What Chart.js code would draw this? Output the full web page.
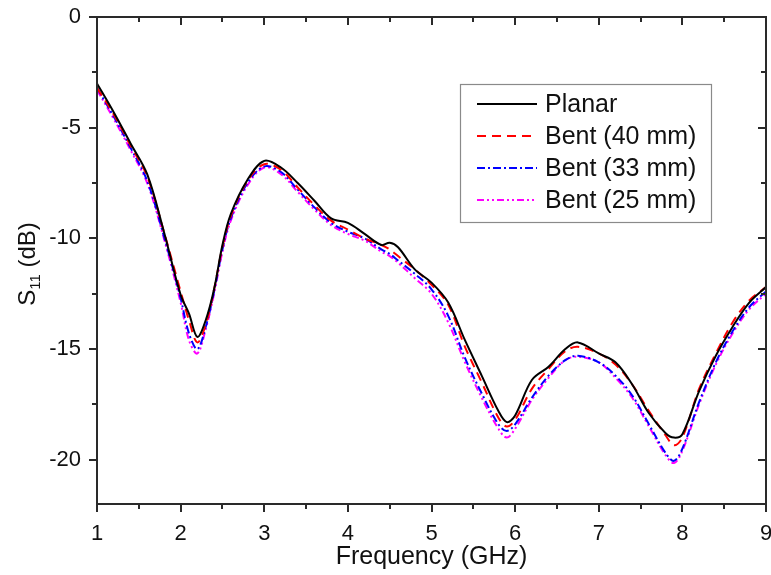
<!DOCTYPE html>
<html>
<head>
<meta charset="utf-8">
<script src="https://cdn.jsdelivr.net/npm/chart.js@4.4.1/dist/chart.umd.min.js"></script>
<style>
  html, body { margin: 0; padding: 0; background: #fff; }
  #wrap { width: 771px; height: 575px; }
</style>
</head>
<body>
<div id="wrap"><canvas id="c" width="771" height="575"></canvas></div>
<script>
const freq = [1.0,1.2,1.4,1.6,1.8,2.0,2.1,2.2,2.3,2.4,2.5,2.6,2.8,3.0,3.2,3.4,3.6,3.8,4.0,4.2,4.4,4.5,4.6,4.8,5.0,5.2,5.4,5.6,5.8,5.9,6.0,6.2,6.4,6.6,6.75,7.0,7.2,7.4,7.6,7.8,7.9,8.0,8.2,8.4,8.6,8.8,9.0];

const planar = [-3.0,-4.3,-5.7,-7.1,-9.7,-12.55,-13.4,-14.45,-13.7,-12.3,-10.3,-8.9,-7.35,-6.5,-6.8,-7.5,-8.3,-9.1,-9.3,-9.8,-10.3,-10.2,-10.4,-11.4,-12.0,-12.9,-14.6,-16.2,-17.8,-18.3,-18.0,-16.4,-15.8,-15.0,-14.7,-15.2,-15.6,-16.6,-17.9,-18.8,-19.0,-18.85,-16.9,-15.3,-14.0,-12.9,-12.2];
const bent40 = [-3.2,-4.4,-5.8,-7.2,-9.7,-12.4,-13.7,-14.7,-13.9,-12.3,-10.4,-9.0,-7.4,-6.65,-6.9,-7.7,-8.5,-9.2,-9.6,-10.0,-10.3,-10.5,-10.8,-11.4,-12.1,-13.0,-14.9,-16.5,-18.1,-18.5,-18.2,-16.8,-15.9,-15.1,-14.9,-15.2,-15.7,-16.6,-17.8,-18.9,-19.35,-19.0,-16.8,-15.2,-13.8,-12.8,-12.2];
const bent33 = [-3.2,-4.5,-5.9,-7.4,-9.9,-12.7,-14.3,-15.0,-14.0,-12.4,-10.5,-9.1,-7.5,-6.75,-7.0,-7.8,-8.6,-9.3,-9.7,-10.0,-10.5,-10.7,-11.0,-11.6,-12.3,-13.5,-15.4,-17.0,-18.4,-18.7,-18.4,-17.2,-16.2,-15.5,-15.3,-15.6,-16.2,-17.1,-18.4,-19.7,-20.05,-19.5,-17.4,-15.6,-14.2,-13.1,-12.4];
const bent25 = [-3.3,-4.6,-6.0,-7.5,-10.0,-12.9,-14.6,-15.2,-14.1,-12.5,-10.6,-9.2,-7.6,-6.8,-7.1,-7.9,-8.7,-9.4,-9.8,-10.1,-10.6,-10.8,-11.1,-11.8,-12.5,-13.8,-15.6,-17.2,-18.6,-19.0,-18.6,-17.3,-16.3,-15.5,-15.35,-15.6,-16.3,-17.2,-18.5,-19.8,-20.15,-19.6,-17.5,-15.7,-14.3,-13.2,-12.5];

const seriesNames = ['Planar','Bent (40 mm)','Bent (33 mm)','Bent (25 mm)'];
const xTicks = [1,2,3,4,5,6,7,8,9];
const yTicks = [0,-5,-10,-15,-20];
const xMinor = [1.5,2.5,3.5,4.5,5.5,6.5,7.5,8.5];
const yMinor = [-2.5,-7.5,-12.5,-17.5];

const colors = ['#000000','#ff0000','#0000ff','#ff00ff'];
const dashes = [[], [9,6], [8,3,2,3], [7,3,2,3,2,3]];
const allSeries = [planar, bent40, bent33, bent25];

const FONT = '"Liberation Sans", Arial, Helvetica, sans-serif';
const AX = '#2a2a2a';

const framePlugin = {
  id: 'frame',
  afterDatasetsDraw(chart) {
    const ctx = chart.ctx;
    const a = chart.chartArea;
    const xs = chart.scales.x, ys = chart.scales.y;
    ctx.save();
    ctx.strokeStyle = AX;
    ctx.lineWidth = 2;
    ctx.setLineDash([]);
    ctx.strokeRect(a.left, a.top, a.right - a.left, a.bottom - a.top);
    ctx.beginPath();
    xTicks.forEach(v => {
      const px = Math.round(xs.getPixelForValue(v));
      ctx.moveTo(px, a.bottom); ctx.lineTo(px, a.bottom + 8);
      ctx.moveTo(px, a.top); ctx.lineTo(px, a.top + 8);
    });
    xMinor.forEach(v => {
      const px = Math.round(xs.getPixelForValue(v));
      ctx.moveTo(px, a.bottom); ctx.lineTo(px, a.bottom + 5);
      ctx.moveTo(px, a.top); ctx.lineTo(px, a.top + 5);
    });
    yTicks.forEach(v => {
      const py = Math.round(ys.getPixelForValue(v));
      ctx.moveTo(a.left, py); ctx.lineTo(a.left - 8, py);
      ctx.moveTo(a.right, py); ctx.lineTo(a.right - 8, py);
    });
    yMinor.forEach(v => {
      const py = Math.round(ys.getPixelForValue(v));
      ctx.moveTo(a.left, py); ctx.lineTo(a.left - 5, py);
      ctx.moveTo(a.right, py); ctx.lineTo(a.right - 5, py);
    });
    ctx.stroke();

    // legend
    const lx = 460, ly = 84, lw = 251, lh = 138;
    ctx.fillStyle = '#fff';
    ctx.fillRect(lx, ly, lw, lh);
    ctx.strokeStyle = '#8a8a8a';
    ctx.lineWidth = 1.2;
    ctx.strokeRect(lx + 0.5, ly + 0.5, lw, lh);
    const rows = [104, 136, 168, 200];
    ctx.font = '25px ' + FONT;
    ctx.textBaseline = 'middle';
    ctx.textAlign = 'left';
    seriesNames.forEach((n, i) => {
      ctx.strokeStyle = colors[i];
      ctx.lineWidth = 2;
      ctx.setLineDash(dashes[i]);
      ctx.beginPath();
      ctx.moveTo(477, rows[i]); ctx.lineTo(537, rows[i]);
      ctx.stroke();
      ctx.setLineDash([]);
      ctx.fillStyle = '#111';
      ctx.fillText(n, 545, rows[i] + 1);
    });

    // axis titles
    ctx.fillStyle = '#111';
    ctx.textAlign = 'center';
    ctx.textBaseline = 'alphabetic';
    ctx.font = '25px ' + FONT;
    ctx.fillText('Frequency (GHz)', (a.left + a.right) / 2, 564);

    ctx.translate(35, 264);
    ctx.rotate(-Math.PI / 2);
    ctx.textAlign = 'left';
    const p1 = 'S', sub = '11', p2 = ' (dB)';
    ctx.font = '24px ' + FONT;
    const w1 = ctx.measureText(p1).width, w2 = ctx.measureText(p2).width;
    ctx.font = '15px ' + FONT;
    const ws = ctx.measureText(sub).width;
    const total = w1 + ws + w2;
    let x0 = -total / 2;
    ctx.font = '24px ' + FONT;
    ctx.fillText(p1, x0, 0);
    ctx.font = '15px ' + FONT;
    ctx.fillText(sub, x0 + w1, 5);
    ctx.font = '24px ' + FONT;
    ctx.fillText(p2, x0 + w1 + ws, 0);
    ctx.restore();
  }
};

const datasets = allSeries.map((arr, i) => ({
  label: seriesNames[i],
  data: freq.map((f, k) => ({ x: f, y: arr[k] })),
  borderColor: colors[i],
  backgroundColor: colors[i],
  borderWidth: 2,
  borderDash: dashes[i],
  pointRadius: 0,
  tension: 0.35,
  fill: false
}));

new Chart(document.getElementById('c'), {
  type: 'line',
  data: { datasets },
  options: {
    responsive: false,
    animation: false,
    devicePixelRatio: 1,
    layout: { padding: { left: 0, top: 17, right: 5, bottom: 0 } },
    plugins: { legend: { display: false }, tooltip: { enabled: false } },
    scales: {
      x: {
        type: 'linear', min: 1, max: 9,
        grid: { display: false, drawTicks: false },
        border: { display: false },
        afterBuildTicks: s => { s.ticks = xTicks.map(v => ({ value: v })); },
        afterFit: s => { s.height = 71; s.paddingLeft = 0; s.paddingRight = 0; },
        ticks: { padding: 17, color: '#111', font: { family: FONT, size: 22 }, maxRotation: 0, autoSkip: false }
      },
      y: {
        type: 'linear', min: -22, max: 0,
        grid: { display: false, drawTicks: false },
        border: { display: false },
        afterBuildTicks: s => { s.ticks = yTicks.map(v => ({ value: v })); },
        afterFit: s => { s.width = 97; s.paddingTop = 0; s.paddingBottom = 0; },
        ticks: { padding: 16, color: '#111', font: { family: FONT, size: 22 }, autoSkip: false }
      }
    }
  },
  plugins: [framePlugin]
});
</script>
</body>
</html>
